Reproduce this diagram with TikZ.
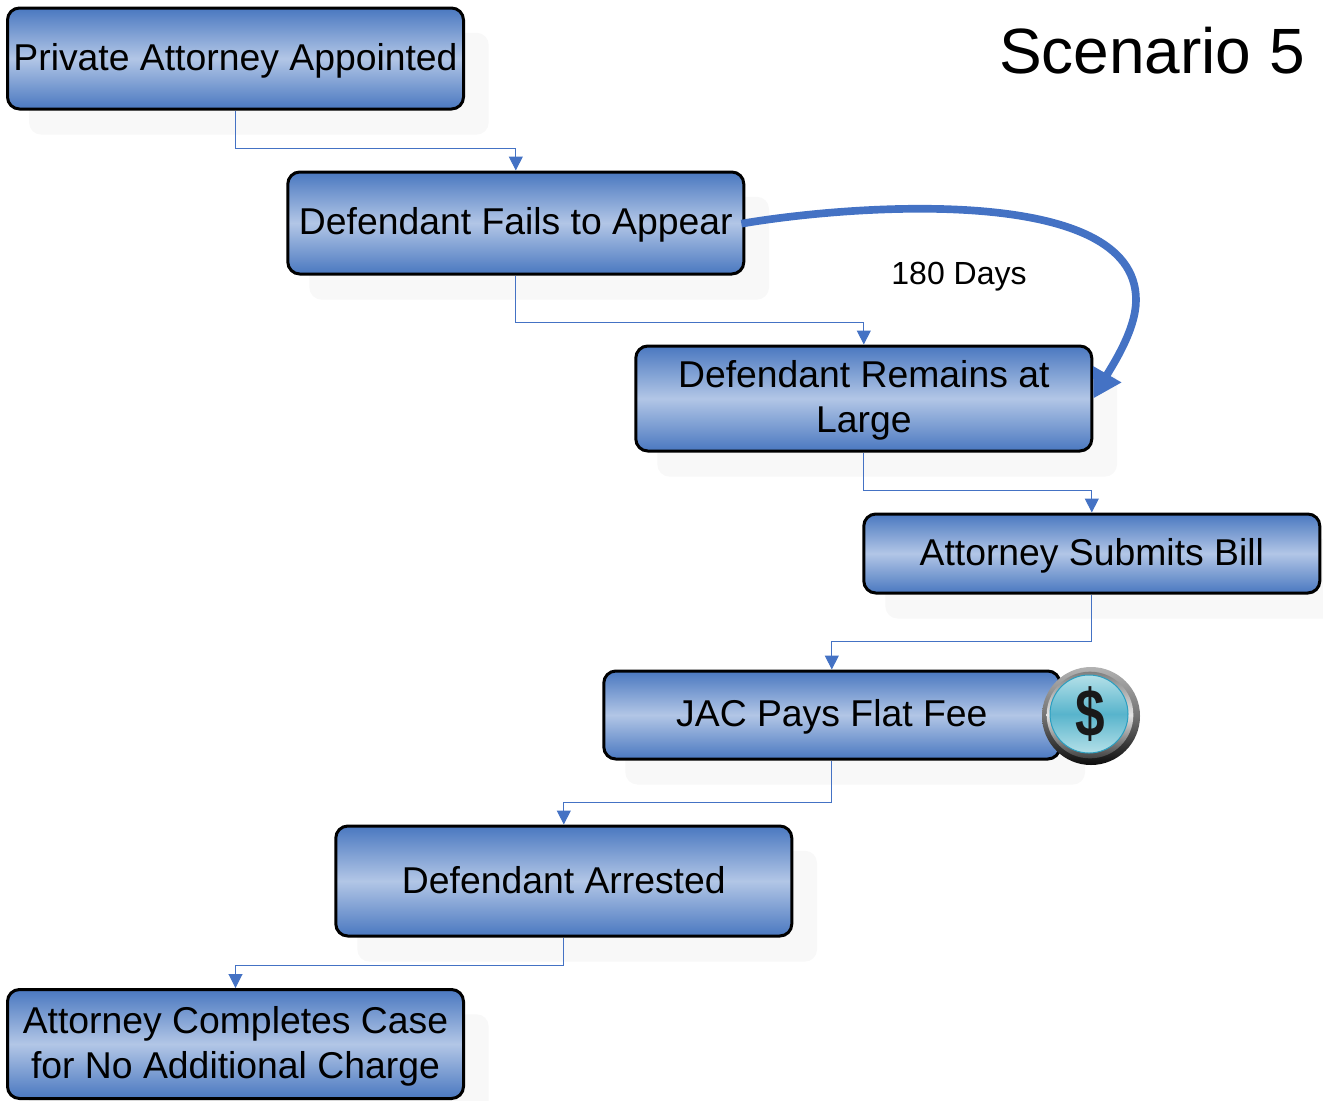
\documentclass[tikz,border=0pt]{standalone}
\usepackage{fontspec}
\setmainfont{Liberation Sans}
\usetikzlibrary{arrows.meta,shadows}

\definecolor{flowblue}{HTML}{4A78C0}
\definecolor{flowlight}{HTML}{B2C6E6}
\definecolor{lineblue}{HTML}{4472C4}
\definecolor{farshadow}{HTML}{F8F8F8}
\definecolor{coinlight}{HTML}{B4E0E8}
\definecolor{coinmid}{HTML}{58B4CC}
\definecolor{coinedge}{HTML}{2A9EC0}

\newcommand{\steptext}[1]{\raisebox{-1.75pt}[\height][\depth]{#1}}

\tikzset{
  stepbox/.style={draw=black, line width=2.25pt, rounded corners=9pt, minimum width=342pt, inner sep=0pt, align=center,
    top color=flowblue, bottom color=flowblue, middle color=flowlight,
    general shadow={fill=farshadow, draw=none, shadow xshift=17.4pt, shadow yshift=-18.75pt, shadow scale=1.008},
    font=\fontsize{28}{33.75}\selectfont},
  flow/.style={draw=lineblue, line width=0.75pt, -{Triangle[length=10.5pt,width=10.5pt]}},
  elbow/.style={to path={-- ++(0,#1) -| (\tikztotarget)}},
  bigflow/.style={draw=lineblue, line width=5.75pt, -{Triangle[length=21pt,width=23pt]}},
  coin/.style={circle, inner sep=0pt, minimum size=#1, shading=axis}
}

\begin{document}
\begin{tikzpicture}[x=0.75pt, y=-0.75pt]
  \useasboundingbox (0,0) rectangle (1323,1100);

  \node[stepbox, minimum height=75.75pt] (PA) at (235.5,58.5) {\steptext{Private Attorney Appointed}};
  \node[stepbox, minimum height=76.5pt] (DF) at (515.8,223) {\steptext{Defendant Fails to Appear}};
  \node[stepbox, minimum height=78.75pt] (DR) at (863.8,398.5) {\steptext{Defendant Remains at}\\\steptext{Large}};
  \node[stepbox, minimum height=59.25pt] (AS) at (1091.8,553.5) {\steptext{Attorney Submits Bill}};
  \node[stepbox, minimum height=66pt] (JP) at (831.8,715) {\steptext{JAC Pays Flat Fee}};
  \node[stepbox, minimum height=82.5pt] (DA) at (563.8,881) {\steptext{Defendant Arrested\vphantom{y}}};
  \node[stepbox, minimum height=81.75pt] (AC) at (235.5,1044) {\steptext{Attorney Completes Case}\\\steptext{for No Additional Charge}};

  \node[font=\fontsize{48}{54}\selectfont] (Title) at (1152,51) {Scenario 5};
  \node[font=\fontsize{24}{28}\selectfont] (Days) at (959,277) {180 Days};

  \draw[flow] (PA.south) to[elbow=38] (DF.north);
  \draw[flow] (DF.south) to[elbow=47] (DR.north);
  \draw[flow] (DR.south) to[elbow=38] (AS.north);
  \draw[flow] (AS.south) to[elbow=47] (JP.north);
  \draw[flow] (JP.south) to[elbow=42] (DA.north);
  \draw[flow] (DA.south) to[elbow=28] (AC.north);

  \draw[bigflow, shorten <=-3pt] (DF.east) .. controls (850,205) and (1136,183) .. (1136,300)
    .. controls (1136,330) and (1112,366) .. (DR.east);

  % coin
  \node[coin=73.5pt, shading angle=135, top color=black!30, bottom color=black!95, middle color=black!55] (CoinRim) at (1091,716) {};
  \node[coin=65pt, shading angle=135, top color=black!50, bottom color=black!75, middle color=black!10] (CoinBand) at (1090,715) {};
  \node[coin=58.5pt, draw=coinedge, line width=0.75pt, top color=coinlight, bottom color=coinlight, middle color=coinmid] (CoinFace) at (1089,714) {};
  \node[font=\fontsize{42}{42}\bfseries\selectfont, xscale=0.95, yscale=1.2, text=black!90] (CoinSign) at (1090,714) {\$};
\end{tikzpicture}
\end{document}
